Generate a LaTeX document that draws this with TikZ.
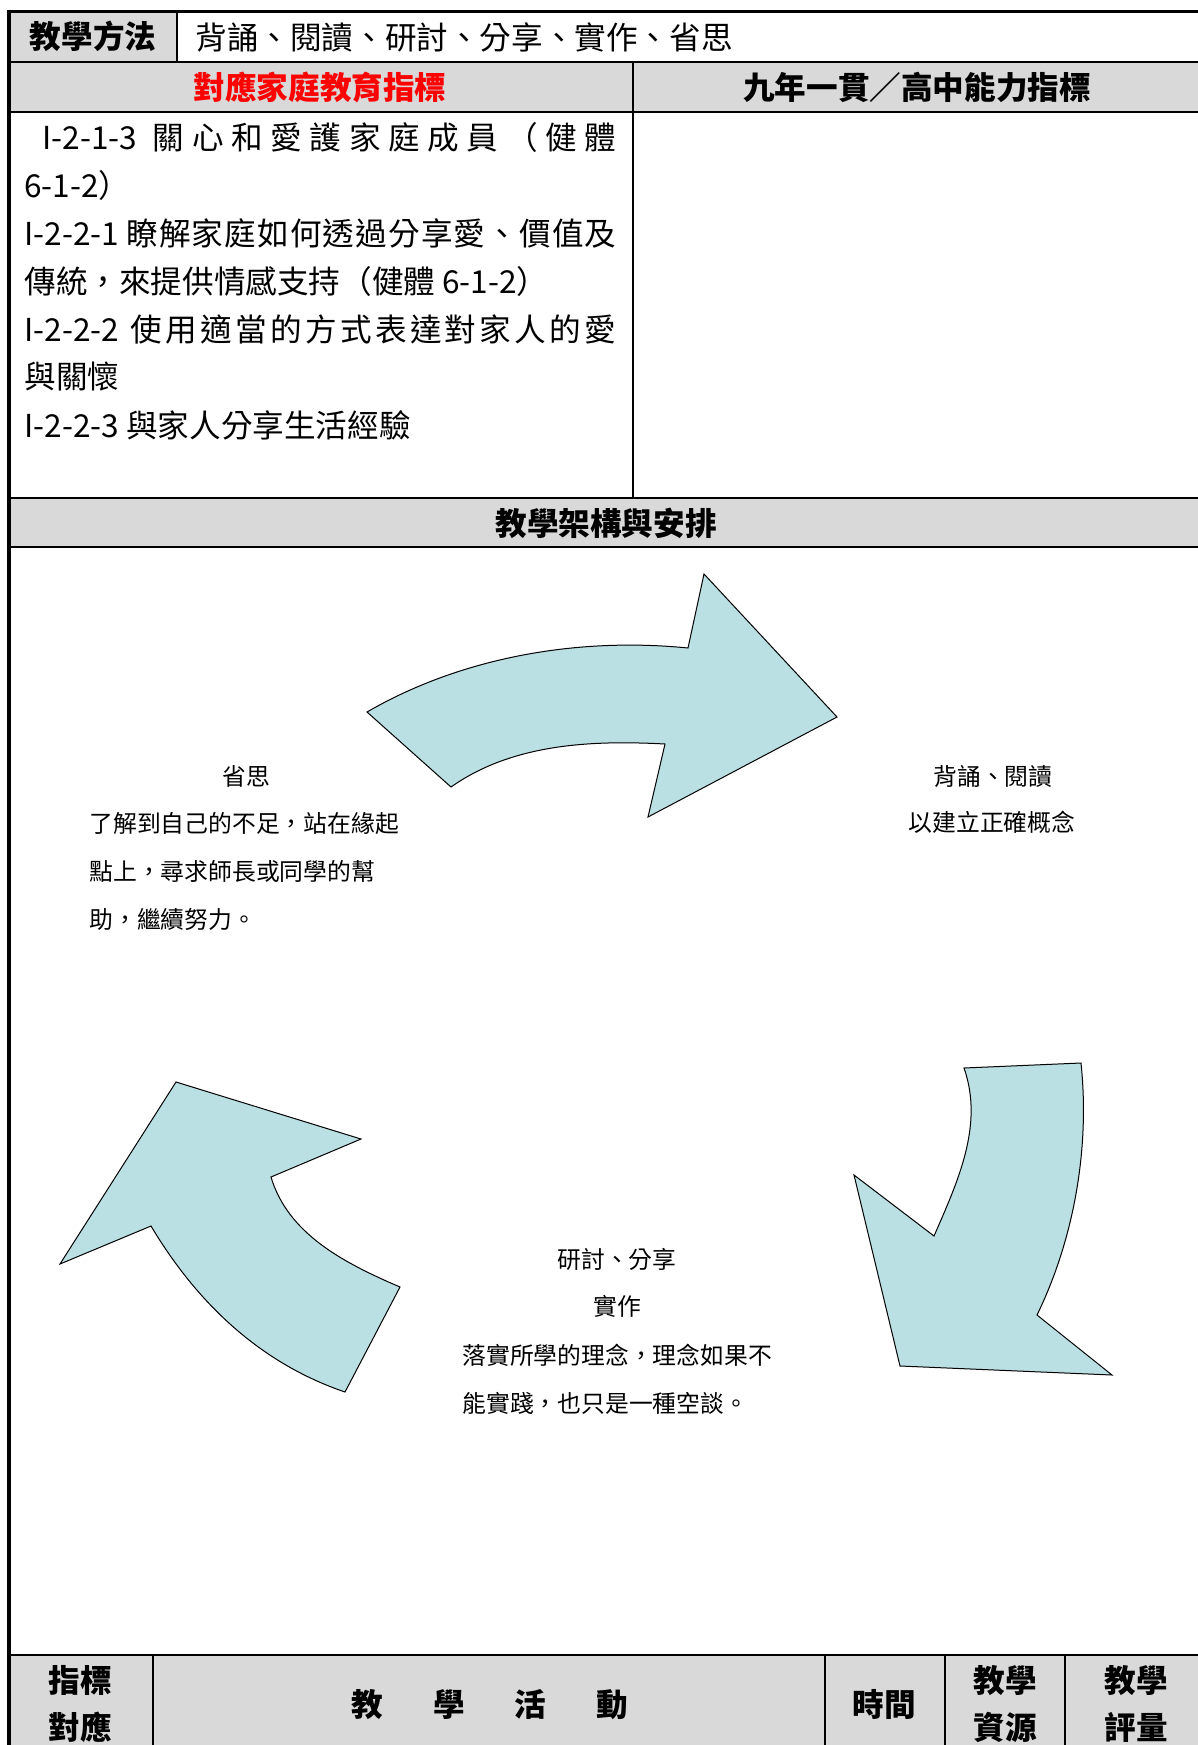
\documentclass[tikz,border=0pt]{standalone}
\usepackage{fontspec}
\setmainfont{Noto Sans CJK TC}
\usepackage{tikz}
\definecolor{cellgray}{RGB}{217,217,217}
\definecolor{arrowblue}{RGB}{187,224,228}
% spread the characters of a line evenly
\newcommand\spreadline[1]{\spreadaux#1\relax}
\def\spreadaux#1{\ifx\relax#1\else\hfil#1\expandafter\spreadaux\fi}
\tikzset{hdr/.style={inner sep=0.75pt,align=center,font=\fontsize{15.8}{23.5}\selectfont\bfseries},
    body/.style={anchor=west,inner sep=0pt,font=\fontsize{15.8}{20}\selectfont},
    note/.style={inner sep=0pt,font=\fontsize{11.9}{16}\selectfont},
    bendarrow/.style={draw=black,line width=0.5pt,fill=arrowblue,line join=miter}}

\begin{document}
\begin{tikzpicture}[x=0.5pt,y=0.5pt,yscale=-1,xscale=1]
\useasboundingbox (0,0) rectangle (1198,1745);

%Shape: gray cells
\fill[cellgray] (9,11) rectangle (177,62);
\fill[cellgray] (9,62) rectangle (1198,112);
\fill[cellgray] (9,498) rectangle (1198,547);
\fill[cellgray] (9,1655) rectangle (1198,1745);
%Straight Lines: rules
\draw[line width=1.5pt] (9,11) -- (1198,11);
\draw[line width=1pt] (9,62) -- (1198,62);
\draw[line width=1pt] (9,112) -- (1198,112);
\draw[line width=1pt] (9,498) -- (1198,498);
\draw[line width=1pt] (9,547) -- (1198,547);
\draw[line width=1pt] (9,1655) -- (1198,1655);
\draw[line width=0.75pt] (177,11) -- (177,62);
\draw[line width=0.75pt] (633,62) -- (633,498);
\draw[line width=0.75pt] (153,1655) -- (153,1745);
\draw[line width=0.75pt] (825,1655) -- (825,1745);
\draw[line width=0.75pt] (945,1655) -- (945,1745);
\draw[line width=0.75pt] (1065,1655) -- (1065,1745);
\draw[line width=1.75pt] (9,9.5) -- (9,1745);

% Text Node
\draw (93,36) node [hdr] (method) {教學方法};
% Text Node
\draw (195,37) node [body] (methodlist) {背誦、閱讀、研討、分享、實作、省思};
% Text Node
\draw (320,87) node [hdr,text=red] (familyhdr) {對應家庭教育指標};
% Text Node
\draw (917,87) node [hdr] (abilityhdr) {九年一貫／高中能力指標};
% Text Node
\draw (42,137) node [body] (ind1) {\makebox[287pt][s]{I-2-1-3\hspace{4pt}\spreadline{關心和愛護家庭成員（健體}}};
\draw (24,185) node [body] (ind1b) {6-1-2）};
\draw (24,233) node [body] (ind2) {\makebox[296pt][s]{I-2-2-1\hspace{3pt}\spreadline{瞭解家庭如何透過分享愛、價值及}}};
\draw (24,281) node [body] (ind2b) {傳統，來提供情感支持（健體 6-1-2）};
\draw (24,329) node [body] (ind3) {\makebox[296pt][s]{I-2-2-2\hspace{4pt}\spreadline{使用適當的方式表達對家人的愛}}};
\draw (24,377) node [body] (ind3b) {與關懷};
\draw (24,425) node [body] (ind4) {I-2-2-3 與家人分享生活經驗};
% Text Node
\draw (606,523) node [hdr] (frame) {教學架構與安排};

%Curve Lines: top arrow
\draw[bendarrow] (367,712) .. controls (462,657) and (578,637) .. (688,648) -- (704,574) -- (837,717) -- (648,817) -- (665,744) .. controls (590,740) and (512,744) .. (451,787) -- cycle;
%Curve Lines: right arrow
\draw[bendarrow] (964,1068) -- (1081,1063) .. controls (1090,1148) and (1074,1239) .. (1037,1315) -- (1112,1375) -- (900,1366) -- (854,1175) -- (934,1236) .. controls (958,1181) and (984,1125) .. (964,1068) -- cycle;
%Curve Lines: left arrow
\draw[bendarrow] (176,1082) -- (361,1139) -- (271,1177) .. controls (288,1234) and (344,1263) .. (400,1287) -- (345,1392) .. controls (260,1363) and (197,1303) .. (151,1226) -- (60,1264) -- cycle;

% Text Node
\draw (246,776) node [note] (reflect) {省思};
\draw (89,823) node [note,anchor=west] (reflect1) {了解到自己的不足，站在緣起};
\draw (89,871) node [note,anchor=west] (reflect2) {點上，尋求師長或同學的幫};
\draw (89,919) node [note,anchor=west] (reflect3) {助，繼續努力。};
% Text Node
\draw (993,776) node [note] (recite) {背誦、閱讀};
\draw (992,822) node [note] (recite1) {以建立正確概念};
% Text Node
\draw (617,1259) node [note] (discuss) {研討、分享};
\draw (617,1306) node [note] (practice) {實作};
\draw (462,1355) node [note,anchor=west] (practice1) {落實所學的理念，理念如果不};
\draw (462,1403) node [note,anchor=west] (practice2) {能實踐，也只是一種空談。};

% Text Node
\draw (80,1704) node [hdr] (idxmap) {指標\\對應};
\draw (490,1705) node [hdr] (activity) {教\hspace{25pt}學\hspace{25pt}活\hspace{25pt}動};
\draw (884,1704) node [hdr] (duration) {時間};
\draw (1005,1704) node [hdr] (resource) {教學\\資源};
\draw (1136,1704) node [hdr] (assess) {教學\\評量};

\end{tikzpicture}
\end{document}
